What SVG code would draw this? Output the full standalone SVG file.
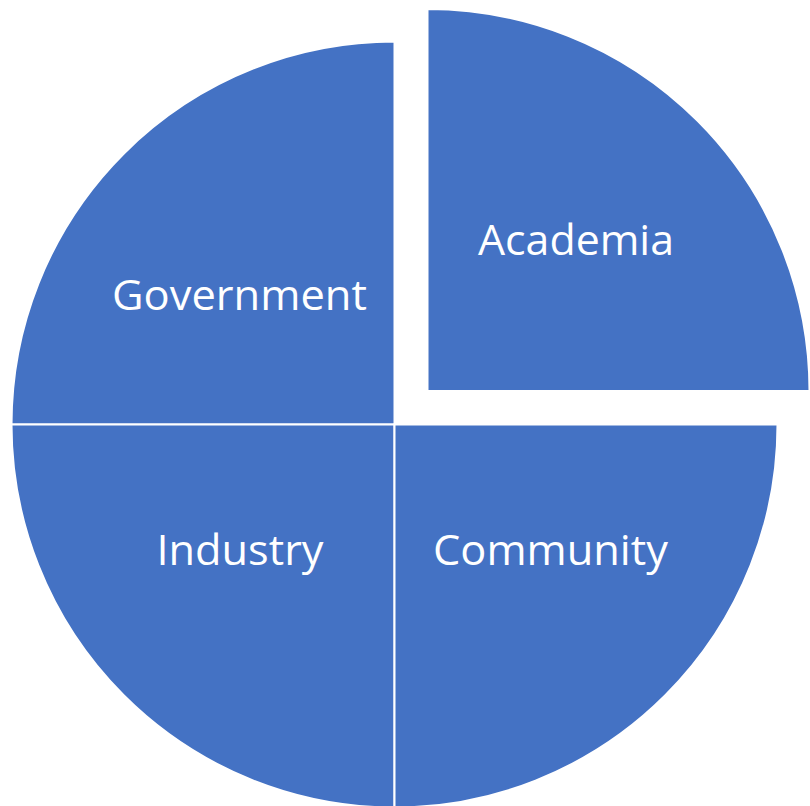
<svg xmlns="http://www.w3.org/2000/svg" width="810" height="806" viewBox="0 0 810 806">
  <style>
    .slice { fill: #4472C4; stroke: #FFFFFF; stroke-width: 2; }
    .lbl { fill: #FFFFFF; font-family: "Open Sans", "Noto Sans", "DejaVu Sans", sans-serif; font-size: 42px; text-anchor: middle; }
  </style>
  <rect width="810" height="806" fill="#FFFFFF"/>
  <g id="government">
    <path class="slice" d="M394.5 424.5 L394.5 41.5 A383 383 0 0 0 11.5 424.5 Z"/>
    <text class="lbl" x="239.5" y="310" textLength="255" lengthAdjust="spacingAndGlyphs">Government</text>
  </g>
  <g id="industry">
    <path class="slice" d="M394.5 424.5 L11.5 424.5 A383 383 0 0 0 394.5 807.5 Z"/>
    <text class="lbl" x="240" y="565" textLength="167" lengthAdjust="spacingAndGlyphs">Industry</text>
  </g>
  <g id="community">
    <path class="slice" d="M394.5 424.5 L394.5 807.5 A383 383 0 0 0 777.5 424.5 Z"/>
    <text class="lbl" x="550.5" y="565" textLength="235" lengthAdjust="spacingAndGlyphs">Community</text>
  </g>
  <g id="academia">
    <path class="slice" d="M427.5 391 L809.5 391 A382 382 0 0 0 427.5 9 Z"/>
    <text class="lbl" x="576" y="255" textLength="196" lengthAdjust="spacingAndGlyphs">Academia</text>
  </g>
  <g id="connectors"></g>
</svg>
